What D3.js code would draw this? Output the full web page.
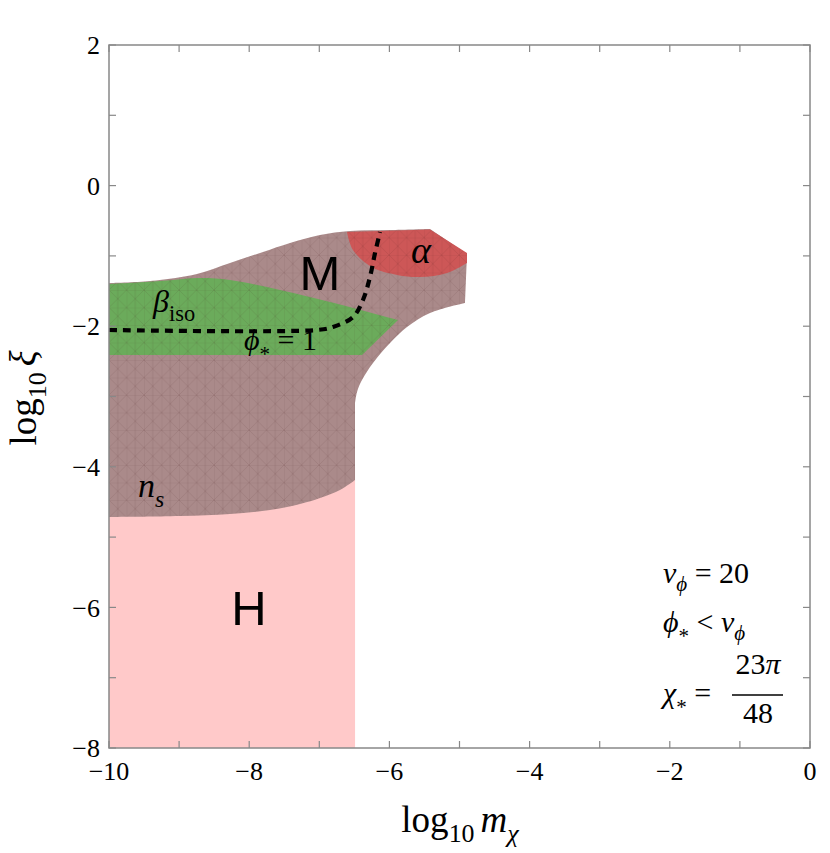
<!DOCTYPE html>
<html><head><meta charset="utf-8">
<script src="https://cdn.jsdelivr.net/npm/d3@7"></script>
<style>
body{margin:0;background:#fff} svg{display:block}
text.serif{font-family:"Liberation Serif","DejaVu Serif",serif}
text.sans{font-family:"Liberation Sans",Arial,sans-serif}
</style>
</head><body>
<svg id="chart" width="830" height="853"></svg>
<script>
// ---------- data (log10 m_chi, log10 xi) ----------
const xDomain = [-10, 0];
const yDomain = [-8, 2];
const xTickValues = d3.range(-10, 1, 1);
const yTickValues = d3.range(-8, 3, 1);
const xTickLabels = [-10, -8, -6, -4, -2, 0];
const yTickLabels = [-8, -6, -4, -2, 0, 2];

// H region (pink)
const regionH = [[-10, -8], [-6.49, -8], [-6.49, -4.0], [-10, -4.0]];

// M / n_s region (brown), piecewise boundary
const brownTop = [[-10, -1.386], [-9.415, -1.357], [-8.745, -1.257], [-8.274, -1.101], [-7.803, -0.945],
                  [-7.418, -0.817], [-6.99, -0.703], [-6.562, -0.646], [-5.991, -0.632], [-5.421, -0.617]];
const brownCap = [[-5.421, -0.617], [-4.893, -0.973], [-4.922, -1.67]];
const brownInner = [[-4.922, -1.67], [-5.421, -1.812], [-5.749, -2.011], [-5.991, -2.239], [-6.234, -2.523],
                    [-6.391, -2.765], [-6.462, -2.936], [-6.491, -3.10]];
const brownEdge = [[-6.491, -3.10], [-6.491, -4.188]];
const nsBottom = [[-6.491, -4.188], [-6.705, -4.33], [-6.99, -4.444], [-7.275, -4.529], [-7.703, -4.615],
                  [-8.274, -4.671], [-8.987, -4.70], [-10, -4.714]];

// beta_iso region (green)
const betaTop = [[-10, -1.40], [-9.272, -1.357], [-8.702, -1.314], [-8.274, -1.343], [-7.561, -1.485],
                 [-6.847, -1.656], [-5.877, -1.912]];
const betaRest = [[-5.877, -1.912], [-6.391, -2.41], [-10, -2.41]];

// alpha region (red)
const alphaTop = [[-6.605, -0.66], [-5.421, -0.625], [-4.893, -0.959], [-4.893, -1.10]];
const alphaBottom = [[-4.893, -1.10], [-5.178, -1.243], [-5.563, -1.30], [-5.89, -1.27], [-6.234, -1.17],
                     [-6.52, -0.916], [-6.605, -0.66]];

// phi_* = 1 contour (dashed)
const phiLine = [[-10, -2.054], [-7.033, -2.054], [-6.805, -2.011], [-6.519, -1.869], [-6.377, -1.627],
                 [-6.277, -1.30], [-6.205, -0.959], [-6.134, -0.66]];

// ---------- layout ----------
const svg = d3.select("#chart");
const L = 109, R = 810, T = 45, B = 748;
const x = d3.scaleLinear().domain(xDomain).range([L, R]);
const y = d3.scaleLinear().domain(yDomain).range([B, T]);

const lin = d3.line().x(d => x(d[0])).y(d => y(d[1])).curve(d3.curveLinear);
const smooth = d3.line().x(d => x(d[0])).y(d => y(d[1])).curve(d3.curveCatmullRom.alpha(0.5));
function joined(pieces) {
  return pieces.map((p, i) => {
    const s = (p.s ? smooth : lin)(p.d);
    return i === 0 ? s : "L" + s.slice(1);
  }).join("") + "Z";
}

// mesh pattern
const defs = svg.append("defs");
const pat = defs.append("pattern").attr("id", "mesh").attr("patternUnits", "userSpaceOnUse")
  .attr("width", 17.5).attr("height", 17.5).attr("x", L).attr("y", T);
const ms = "rgba(60,20,20,0.16)";
[[0,0,17.5,17.5],[17.5,0,0,17.5],[0,0,17.5,0],[0,0,0,17.5],[8.75,0,8.75,17.5]].forEach(l =>
  pat.append("line").attr("x1", l[0]).attr("y1", l[1]).attr("x2", l[2]).attr("y2", l[3])
    .attr("stroke", ms).attr("stroke-width", 0.6));

const plot = svg.append("g");
plot.append("path").attr("d", lin(regionH) + "Z").attr("fill", "#ffc9c9");

const brownPath = joined([{d: brownTop, s: true}, {d: brownCap}, {d: brownInner, s: true},
                          {d: brownEdge}, {d: nsBottom, s: true}]);
plot.append("path").attr("d", brownPath).attr("fill", "#aa8a8a");
plot.append("path").attr("d", joined([{d: betaTop, s: true}, {d: betaRest}])).attr("fill", "#6bab5b");
plot.append("path").attr("d", joined([{d: alphaTop}, {d: alphaBottom, s: true}])).attr("fill", "#cd5757");
plot.append("path").attr("d", brownPath).attr("fill", "url(#mesh)");

plot.append("path").attr("d", smooth(phiLine)).attr("fill", "none").attr("stroke", "#000")
  .attr("stroke-width", 4.2).attr("stroke-dasharray", "8,6");

// ---------- frame & ticks ----------
const frameCol = "#888";
svg.append("rect").attr("x", L).attr("y", T).attr("width", R - L).attr("height", B - T)
  .attr("fill", "none").attr("stroke", frameCol).attr("stroke-width", 1.5);
const tl = 7;
xTickValues.forEach(v => {
  svg.append("line").attr("x1", x(v)).attr("x2", x(v)).attr("y1", B).attr("y2", B - tl).attr("stroke", frameCol).attr("stroke-width", 1.2);
  svg.append("line").attr("x1", x(v)).attr("x2", x(v)).attr("y1", T).attr("y2", T + tl).attr("stroke", frameCol).attr("stroke-width", 1.2);
});
yTickValues.forEach(v => {
  svg.append("line").attr("y1", y(v)).attr("y2", y(v)).attr("x1", L).attr("x2", L + tl).attr("stroke", frameCol).attr("stroke-width", 1.2);
  svg.append("line").attr("y1", y(v)).attr("y2", y(v)).attr("x1", R).attr("x2", R - tl).attr("stroke", frameCol).attr("stroke-width", 1.2);
});
const fmt = v => (v < 0 ? "\u2212" + Math.abs(v) : String(v));
xTickLabels.forEach(v => svg.append("text").attr("class", "serif").attr("x", x(v)).attr("y", 780).attr("text-anchor", "middle")
  .attr("font-size", 26).text(fmt(v)));
yTickLabels.forEach(v => svg.append("text").attr("class", "serif").attr("x", 100).attr("y", y(v)).attr("dy", "0.35em").attr("text-anchor", "end")
  .attr("font-size", 26).text(fmt(v)));

// ---------- rich text helper ----------
function rich(g, px, py, parts, size, anchor) {
  const t = g.append("text").attr("class", "serif").attr("x", px).attr("y", py)
    .attr("font-size", size).attr("text-anchor", anchor || "start").attr("fill", "#000");
  let shift = 0;
  parts.forEach(p => {
    const s = t.append("tspan").text(p.t);
    if (p.i) s.attr("font-style", "italic");
    const target = p.sub ? size * (p.star ? 0.36 : 0.28) : 0;
    if (target !== shift) { s.attr("dy", target - shift); shift = target; }
    if (p.sub) s.attr("font-size", size * 0.7);
    if (p.dx) s.attr("dx", p.dx);
  });
  return t;
}

// axis titles
rich(svg, 460, 832, [{t: "log"}, {t: "10", sub: true}, {t: "m", i: true, dx: 6}, {t: "\u03c7", i: true, sub: true}], 37, "middle");
const yt = svg.append("g").attr("transform", "translate(36,398) rotate(-90)");
rich(yt, 0, 0, [{t: "log"}, {t: "10", sub: true}, {t: "\u03be", i: true, dx: 6}], 37, "middle");

// region labels
svg.append("text").attr("class", "sans").attr("x", x(-6.99)).attr("y", y(-1.485)).attr("text-anchor", "middle")
  .attr("font-size", 49).text("M");
svg.append("text").attr("class", "sans").attr("x", x(-8.003)).attr("y", y(-6.25)).attr("text-anchor", "middle")
  .attr("font-size", 49).text("H");
rich(svg, x(-5.55), y(-1.10), [{t: "\u03b1", i: true}], 38, "middle");
rich(svg, x(-9.372), y(-1.798), [{t: "\u03b2", i: true}, {t: "iso", sub: true}], 32);
rich(svg, x(-8.074), y(-2.339), [{t: "\u03d5", i: true}, {t: "*", sub: true, star: true}, {t: " = 1"}], 30);
rich(svg, x(-9.586), y(-4.43), [{t: "n", i: true}, {t: "s", i: true, sub: true}], 34);

// annotations
const ax = x(-2.097);
rich(svg, ax, 583, [{t: "v", i: true}, {t: "\u03d5", i: true, sub: true}, {t: " = 20"}], 30);
rich(svg, ax, 632, [{t: "\u03d5", i: true}, {t: "*", sub: true, star: true}, {t: " < "}, {t: "v", i: true}, {t: "\u03d5", i: true, sub: true}], 30);
rich(svg, ax, 703, [{t: "\u03c7", i: true}, {t: "*", sub: true, star: true}, {t: " ="}], 30);
svg.append("line").attr("x1", 732).attr("x2", 783).attr("y1", 695).attr("y2", 695).attr("stroke", "#000").attr("stroke-width", 1.3);
rich(svg, 758, 674, [{t: "23"}, {t: "\u03c0", i: true}], 30, "middle");
rich(svg, 758, 723, [{t: "48"}], 30, "middle");
</script>
</body></html>
